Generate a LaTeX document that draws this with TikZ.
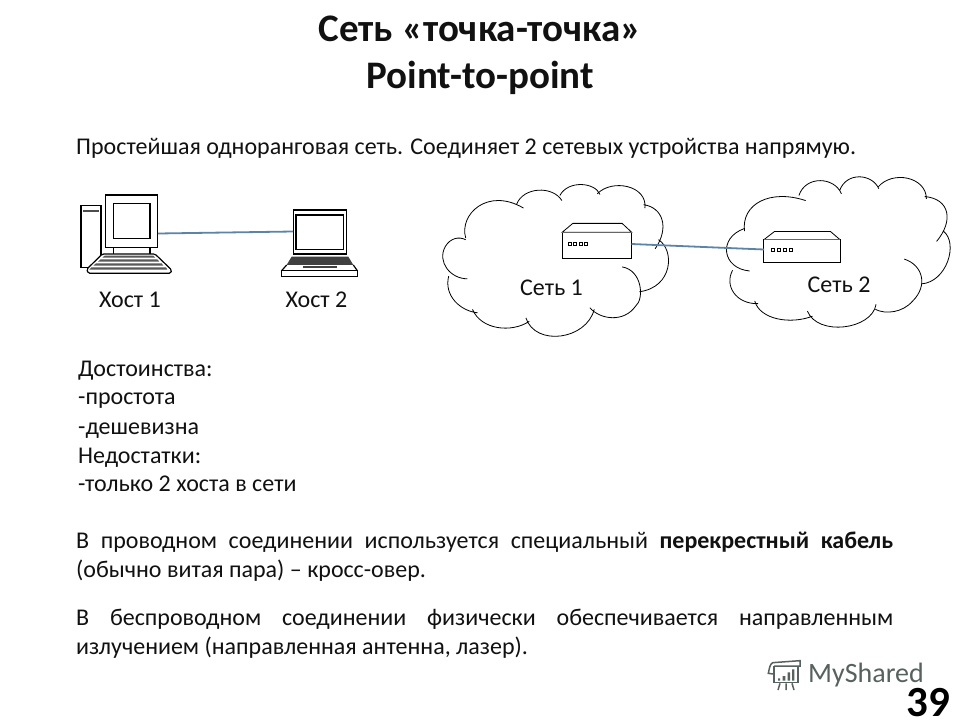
\documentclass[tikz,border=0pt]{standalone}
\usepackage{fontspec}
\setmainfont{Carlito}
\definecolor{wire}{HTML}{5B84A8}
\definecolor{logo}{HTML}{56625E}
\definecolor{ink}{HTML}{111111}
\newcommand{\jline}[1]{\makebox[817pt][s]{#1}}
\tikzset{
  txt/.style={anchor=base west,inner sep=0pt,font=\fontsize{24}{28}\selectfont,text=ink},
  lbl/.style={anchor=base,inner sep=0pt,font=\fontsize{24}{28}\selectfont,text=ink},
  ttl/.style={anchor=base,inner sep=0pt,font=\fontsize{39}{44}\selectfont\bfseries,text=ink},
  thin/.style={draw=black,line width=.8pt},
  heavy/.style={draw=black,line width=1.2pt},
  wirel/.style={draw=wire,line width=1.8pt},
  zoomA/.style={shift={(70,180)},x=.3333pt,y=-.3333pt},
  zoomB/.style={shift={(430,170)},x=.34pt,y=-.34pt},
  zoomC/.style={shift={(750,640)},x=.3333pt,y=-.3333pt}
}
\begin{document}
\begin{tikzpicture}[x=1pt,y=-1pt]
\useasboundingbox[fill=white] (0,0) rectangle (960,720);

\node[ttl] (t1) at (480,41) {Сеть «точка-точка»};
\node[ttl] (t2) at (480,88) {Point-to-point};
\node[txt] (intro) at (76,154) {Простейшая одноранговая сеть. Соединяет 2 сетевых устройства напрямую.};

% --- Host 1
\begin{scope}[zoomA]
  \draw[heavy,fill=white] (33,77) rectangle (93,263);
  \fill[black!70] (40,89) rectangle (87,95);
  \draw[heavy] (130,203) -- (130,222) (240,203) -- (240,222);
  \draw[heavy,fill=white,rounded corners=1.5pt] (97,222) -- (255,222) -- (305,270) -- (302,280) -- (55,280) -- (50,268) -- cycle;
  \fill[black!65] (104,227) -- (250,227) -- (256,233) -- (97,233) -- cycle;
  \fill[black!65] (92,238) -- (262,238) -- (268,245) -- (84,245) -- cycle;
  \fill[black!65] (78,250) -- (275,250) -- (280,257) -- (70,257) -- cycle;
  \fill[black!65] (64,262) -- (288,262) -- (292,269) -- (58,269) -- cycle;
  \draw[heavy,fill=white] (107,45) rectangle (263,203);
  \draw[thin,line width=1.1pt] (130,70) rectangle (240,176);
\end{scope}
\node[lbl] (h1) at (130,307) {Хост 1};

% --- Host 2
\begin{scope}[zoomA]
  \draw[heavy] (670,222) -- (670,90) -- (830,90) -- (830,222) -- cycle;
  \draw[heavy] (678,105) rectangle (820,208);
  \fill[black!75] (665,230) -- (835,230) -- (850,255) -- (650,255) -- cycle;
  \draw[heavy] (650,255) -- (635,272) (850,255) -- (862,272);
  \draw[heavy] (635,272) rectangle (862,290);
  \fill[black!75] (698,258) rectangle (800,265);
\end{scope}
\node[lbl] (h2) at (316.5,307) {Хост 2};

% connector host-host
\coordinate (h1port) at (158,233.5);
\coordinate (h2port) at (293,231.5);
\draw[wirel] (h1port) -- (h2port);

% --- Cloud 1
\begin{scope}[zoomB]
  \draw[thin]
    (105,200) .. controls (85,130) and (170,50) .. (275,112)
    (255,100) .. controls (275,50) and (360,45) .. (388,90)
    (382,75) .. controls (405,30) and (485,35) .. (500,72)
    (492,70) .. controls (535,25) and (640,45) .. (632,112)
    (628,102) .. controls (685,110) and (705,170) .. (662,232)
    (672,205) .. controls (720,235) and (715,345) .. (616,358)
    (565,285) .. controls (625,295) and (630,380) .. (605,400) .. controls (570,450) and (500,440) .. (470,405)
    (483,410) .. controls (460,500) and (310,520) .. (282,435)
    (292,445) .. controls (240,480) and (150,470) .. (125,410)
    (140,420) .. controls (90,415) and (40,370) .. (55,312)
    (110,320) .. controls (60,320) and (20,270) .. (45,225) .. controls (60,200) and (85,195) .. (105,205);
\end{scope}
\node[lbl] (c1) at (551.5,295) {Сеть 1};

% --- Cloud 2
\begin{scope}[zoomB]
  \draw[thin]
    (925,180) .. controls (915,100) and (1000,55) .. (1105,90)
    (1085,75) .. controls (1105,15) and (1190,20) .. (1210,70)
    (1205,60) .. controls (1225,5) and (1300,10) .. (1320,55)
    (1318,50) .. controls (1360,0) and (1460,20) .. (1460,85)
    (1455,78) .. controls (1530,85) and (1540,150) .. (1490,210)
    (1510,180) .. controls (1555,215) and (1520,330) .. (1445,335)
    (1395,262) .. controls (1450,280) and (1465,340) .. (1420,385) .. controls (1390,420) and (1340,425) .. (1310,410)
    (1312,395) .. controls (1300,470) and (1140,490) .. (1110,415)
    (1125,430) .. controls (1060,455) and (970,440) .. (955,385)
    (965,393) .. controls (900,395) and (865,340) .. (890,295)
    (940,297) .. controls (860,290) and (845,200) .. (925,172);
\end{scope}
\node[lbl] (c2) at (839,292) {Сеть 2};

% --- Routers
\begin{scope}[zoomB]
  \draw[thin,fill=white] (389,183) -- (420,157) -- (565,157) -- (593,183) -- cycle;
  \draw[thin,fill=white] (389,183) rectangle (593,260);
  \fill[black!60] (389,181) rectangle (593,186);
  \foreach \px in {407,423,439,455} \draw[thin] (\px,214) rectangle ++(9,9);
  \draw[thin,fill=white] (982,205) -- (1013,181) -- (1178,181) -- (1206,205) -- cycle;
  \draw[thin,fill=white] (982,205) rectangle (1206,271);
  \fill[black!60] (982,202) rectangle (1206,207);
  \foreach \px in {1005,1022,1039,1056} \draw[thin] (\px,231) rectangle ++(9,9);
\end{scope}
\coordinate (r1port) at (631.5,244);
\coordinate (r2port) at (764,249.5);
\draw[wirel] (r1port) -- (r2port);

% --- Lists
\node[txt] (a1) at (78,376) {Достоинства:};
\node[txt] (a2) at (78,404) {-простота};
\node[txt] (a3) at (78,434) {-дешевизна};
\node[txt] (a4) at (78,463) {Недостатки:};
\node[txt] (a5) at (78,491.5) {-только 2 хоста в сети};

% --- Paragraphs
\node[txt] (p1) at (76,548) {\jline{В проводном соединении используется специальный \textbf{перекрестный кабель}}};
\node[txt] (p2) at (76,577) {(обычно витая пара) – кросс-овер.};
\node[txt] (p3) at (76,625) {\jline{В беспроводном соединении физически обеспечивается направленным}};
\node[txt] (p4) at (76,654) {излучением (направленная антенна, лазер).};

% --- Logo
\begin{scope}[zoomC]
  \draw[logo,line width=1.5pt] (68,68) -- (150,62) -- (150,78) -- (72,78) (68,68) .. controls (60,72) and (58,85) .. (55,100) -- (70,102);
  \draw[logo,line width=1.5pt] (72,78) -- (72,128) -- (144,128) -- (144,78);
  \fill[logo] (84,115) rectangle (90,122) (98,108) rectangle (106,122) (113,97) rectangle (120,122) (126,88) rectangle (133,122);
  \draw[logo,line width=1.5pt] (90,130) -- (84,150) (108,130) -- (108,150) (126,130) -- (132,150);
\end{scope}
\node[anchor=base west,inner sep=0pt,font=\fontsize{28}{32}\selectfont,text=logo] (logotxt) at (808,682) {MyShared};
\node[anchor=base east,inner sep=0pt,font=\fontsize{43}{46}\selectfont\bfseries,text=black] (pg) at (950,716) {39};
\end{tikzpicture}
\end{document}
